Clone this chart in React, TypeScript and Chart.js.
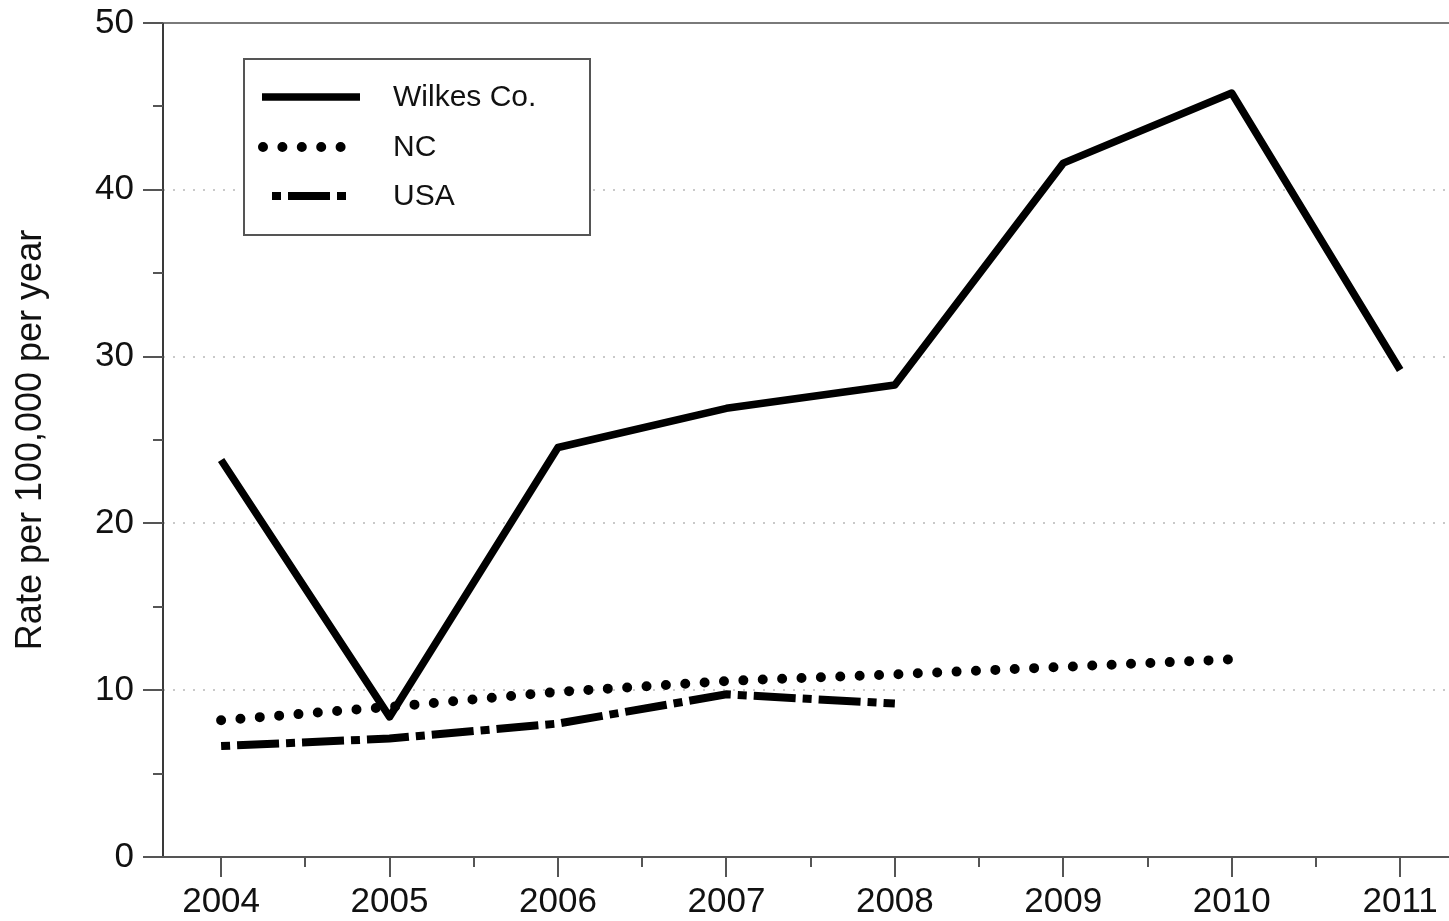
import React, { useEffect, useRef } from "react";
import { Chart, registerables } from "chart.js";

Chart.register(...registerables);

// ---- data ----
const years = [2004, 2005, 2006, 2007, 2008, 2009, 2010, 2011];
const wilkesRates = [23.8, 8.4, 24.55, 26.9, 28.3, 41.6, 45.8, 29.2];
const ncYears = [2004, 2005, 2006, 2007, 2008, 2009, 2010];
const ncRates = [8.2, 9.0, 9.9, 10.55, 10.95, 11.4, 11.85];
const usaYears = [2004, 2005, 2006, 2007, 2008];
const usaRates = [6.65, 7.1, 8.0, 9.75, 9.2];
const seriesNames = ["Wilkes Co.", "NC", "USA"];
const yMajorTicks = [0, 10, 20, 30, 40, 50];
const yMinorTicks = [5, 15, 25, 35, 45];
const xMinorTicks = [2004.5, 2005.5, 2006.5, 2007.5, 2008.5, 2009.5, 2010.5];
const yTitle = "Rate per 100,000 per year";

const FONT = "'Liberation Sans', Arial, Helvetica, sans-serif";
const TEXT = "#111111";

const axesPlugin = {
  id: "customAxes",
  beforeDatasetsDraw(chart: any) {
    const { ctx, chartArea: a, scales } = chart;
    const x = scales.x;
    const y = scales.y;
    ctx.save();
    // dotted gridlines
    ctx.strokeStyle = "#b8b8b8";
    ctx.lineWidth = 1.5;
    ctx.setLineDash([2, 8]);
    yMajorTicks.forEach((v) => {
      if (v <= 0 || v >= 50) return;
      const py = Math.round(y.getPixelForValue(v));
      ctx.beginPath();
      ctx.moveTo(a.left, py);
      ctx.lineTo(a.right, py);
      ctx.stroke();
    });
    ctx.setLineDash([]);
    const y0 = Math.round(y.getPixelForValue(0));
    const y50 = Math.round(y.getPixelForValue(50));
    // top frame line
    ctx.strokeStyle = "#7a7a7a";
    ctx.lineWidth = 2;
    ctx.beginPath();
    ctx.moveTo(a.left - 20, y50);
    ctx.lineTo(a.right, y50);
    ctx.stroke();
    // left axis and bottom axis
    ctx.strokeStyle = "#3a3a3a";
    ctx.beginPath();
    ctx.moveTo(a.left, y50);
    ctx.lineTo(a.left, y0);
    ctx.stroke();
    ctx.strokeStyle = "#555";
    ctx.beginPath();
    ctx.moveTo(a.left - 20, y0);
    ctx.lineTo(a.right, y0);
    ctx.stroke();
    // y ticks
    ctx.strokeStyle = "#555";
    yMajorTicks.forEach((v) => {
      const py = Math.round(y.getPixelForValue(v));
      ctx.beginPath();
      ctx.moveTo(a.left - 20, py);
      ctx.lineTo(a.left, py);
      ctx.stroke();
    });
    yMinorTicks.forEach((v) => {
      const py = Math.round(y.getPixelForValue(v));
      ctx.beginPath();
      ctx.moveTo(a.left - 10, py);
      ctx.lineTo(a.left, py);
      ctx.stroke();
    });
    // x ticks
    years.forEach((v) => {
      const px = Math.round(x.getPixelForValue(v));
      ctx.beginPath();
      ctx.moveTo(px, y0);
      ctx.lineTo(px, y0 + 20);
      ctx.stroke();
    });
    xMinorTicks.forEach((v) => {
      const px = Math.round(x.getPixelForValue(v));
      ctx.beginPath();
      ctx.moveTo(px, y0);
      ctx.lineTo(px, y0 + 10);
      ctx.stroke();
    });
    ctx.restore();
  },
};

const legendPlugin = {
  id: "boxLegend",
  afterDatasetsDraw(chart: any) {
    const { ctx } = chart;
    const box = { left: 244, top: 59, right: 590, bottom: 235 };
    ctx.save();
    ctx.fillStyle = "#ffffff";
    ctx.fillRect(box.left, box.top, box.right - box.left, box.bottom - box.top);
    ctx.strokeStyle = "#555";
    ctx.lineWidth = 2;
    ctx.strokeRect(box.left, box.top, box.right - box.left, box.bottom - box.top);
    const rows = [97, 147, 196];
    const sampleStart = [262, 263, 272];
    const sampleEnd = [360, 358, 348];
    chart.data.datasets.forEach((ds: any, i: number) => {
      const ry = rows[i];
      ctx.strokeStyle = ds.borderColor;
      ctx.lineWidth = ds.borderWidth;
      ctx.lineCap = ds.borderCapStyle || "butt";
      ctx.setLineDash(ds.borderDash || []);
      ctx.lineDashOffset = ds.borderDashOffset || 0;
      ctx.beginPath();
      ctx.moveTo(sampleStart[i], ry);
      ctx.lineTo(sampleEnd[i], ry);
      ctx.stroke();
      ctx.setLineDash([]);
      ctx.fillStyle = TEXT;
      ctx.font = `30px ${FONT}`;
      ctx.textBaseline = "middle";
      ctx.textAlign = "left";
      ctx.fillText(ds.label, 393, ry + 1);
    });
    ctx.restore();
  },
};

export default function App() {
  const canvasRef = useRef<HTMLCanvasElement | null>(null);

  useEffect(() => {
    const canvas = canvasRef.current;
    if (!canvas) return;
    const chart = new Chart(canvas, {
      type: "line",
      data: {
        datasets: [
          {
            label: seriesNames[0],
            data: years.map((yr, i) => ({ x: yr, y: wilkesRates[i] })),
            borderColor: "#000",
            borderWidth: 7.5,
            borderCapStyle: "butt",
            borderJoinStyle: "round",
            pointRadius: 0,
            tension: 0,
          },
          {
            label: seriesNames[1],
            data: ncYears.map((yr, i) => ({ x: yr, y: ncRates[i] })),
            borderColor: "#000",
            borderWidth: 10,
            borderCapStyle: "round",
            borderDash: [0, 19.4],
            pointRadius: 0,
            tension: 0,
          },
          {
            label: seriesNames[2],
            data: usaYears.map((yr, i) => ({ x: yr, y: usaRates[i] })),
            borderColor: "#000",
            borderWidth: 8,
            borderCapStyle: "butt",
            borderDash: [42, 7, 9, 7],
            borderDashOffset: 49,
            pointRadius: 0,
            tension: 0,
          },
        ],
      },
      options: {
        responsive: false,
        animation: false,
        devicePixelRatio: 1,
        layout: { padding: { top: 23, right: 0, bottom: 0, left: 0 } },
        plugins: {
          legend: { display: false },
          tooltip: { enabled: false },
        },
        scales: {
          x: {
            type: "linear",
            min: 2003.655,
            max: 2011.29,
            afterBuildTicks: (scale: any) => {
              scale.ticks = years.map((v) => ({ value: v }));
            },
            afterFit: (scale: any) => {
              scale.height = 64;
              scale.paddingLeft = 0;
              scale.paddingRight = 0;
            },
            grid: { display: false, drawTicks: false, tickLength: 0 },
            border: { display: false },
            ticks: {
              autoSkip: false,
              maxRotation: 0,
              padding: 24,
              color: TEXT,
              font: { family: FONT, size: 35 },
              callback: (v: any) => String(v),
            },
          },
          y: {
            type: "linear",
            min: 0,
            max: 50,
            afterBuildTicks: (scale: any) => {
              scale.ticks = yMajorTicks.map((v) => ({ value: v }));
            },
            afterFit: (scale: any) => {
              scale.width = 163;
              scale.paddingTop = 0;
              scale.paddingBottom = 0;
            },
            grid: { display: false, drawTicks: false, tickLength: 0 },
            border: { display: false },
            ticks: {
              padding: 29,
              color: TEXT,
              font: { family: FONT, size: 35 },
              callback: (v: any) => String(v),
            },
            title: {
              display: true,
              text: yTitle,
              color: TEXT,
              font: { family: FONT, size: 36 },
              padding: { top: 9, bottom: 0 },
            },
          },
        },
      },
      plugins: [axesPlugin, legendPlugin],
    } as any);
    return () => chart.destroy();
  }, []);

  return (
    <div style={{ position: "absolute", left: 0, top: 0, width: 1449, height: 921, background: "#fff" }}>
      <canvas ref={canvasRef} width={1449} height={921} style={{ display: "block" }} />
    </div>
  );
}
